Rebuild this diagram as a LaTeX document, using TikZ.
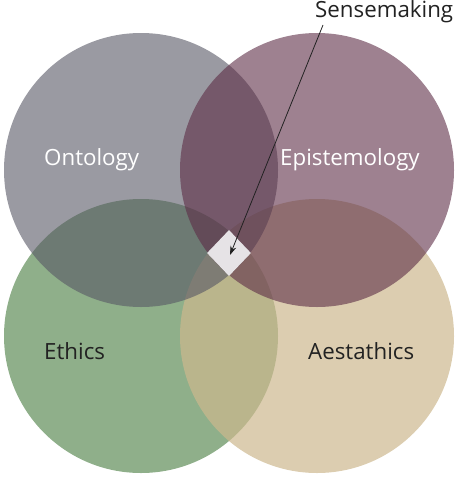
\documentclass[tikz,border=0pt]{standalone}
\usepackage{fontspec}
\setmainfont{Open Sans}
\usetikzlibrary{shapes.geometric,arrows.meta}
\definecolor{ethc}{RGB}{143,175,138}
\definecolor{aesc}{RGB}{205,184,142}
\definecolor{ontc}{RGB}{87,87,100}
\definecolor{epic}{RGB}{93,45,70}
\definecolor{diac}{RGB}{230,227,230}
\definecolor{txtd}{RGB}{34,34,34}
\tikzset{
  lbl/.style={font=\fontsize{22.3}{25}\selectfont, anchor=base west, inner sep=0pt},
  circ/.style={circle, minimum size=274pt, inner sep=0pt},
}
\begin{document}
\begin{tikzpicture}[x=1pt,y=-1pt]
\useasboundingbox (0,0) rectangle (462,479);
\node[circ, fill=ethc] (ethics) at (141,336) {};
\node[circ, fill=aesc, fill opacity=0.7] (aest) at (317,336) {};
\node[circ, fill=ontc, fill opacity=0.6] (onto) at (141,170) {};
\node[circ, fill=epic, fill opacity=0.6] (epis) at (317,170) {};
\node[diamond, fill=diac, minimum width=44pt, minimum height=46pt, inner sep=0pt] (sense) at (229,253) {};
\coordinate (tip) at (230,255);
\node[lbl, white] (lonto) at (44,165) {Ontology};
\node[lbl, white] (lepis) at (280,165) {Epistemology};
\node[lbl, txtd] (leth) at (44,359) {Ethics};
\node[lbl, txtd] (laes) at (308,359) {Aestathics};
\node[lbl, txtd] (lsense) at (315,17) {Sensemaking};
\coordinate (sstart) at (323,25);
\draw[txtd, line width=0.8pt, -{Stealth[length=9pt,width=6pt]}] (sstart) -- (tip);
\end{tikzpicture}
\end{document}
